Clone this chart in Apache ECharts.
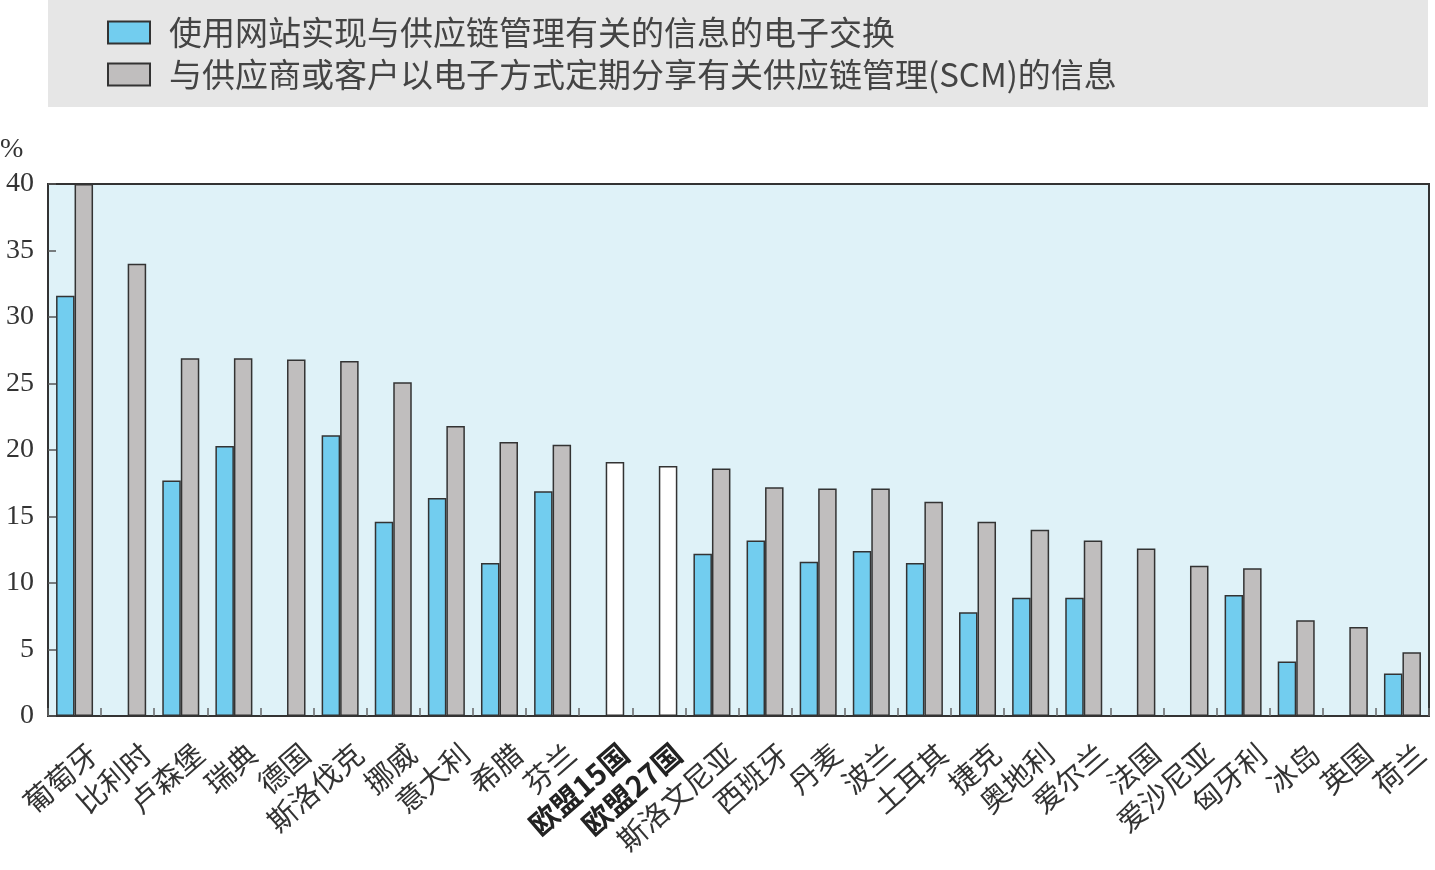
<!DOCTYPE html>
<html>
<head>
<meta charset="utf-8">
<script src="https://cdn.jsdelivr.net/npm/echarts@6/dist/echarts.min.js"></script>
<style>html,body{margin:0;padding:0;background:#fff;}#c{width:1435px;height:870px;}</style>
</head>
<body>
<div id="c"></div>
<script>
const categories = ['葡萄牙','比利时','卢森堡','瑞典','德国','斯洛伐克','挪威','意大利','希腊','芬兰','欧盟15国','欧盟27国','斯洛文尼亚','西班牙','丹麦','波兰','土耳其','捷克','奥地利','爱尔兰','法国','爱沙尼亚','匈牙利','冰岛','英国','荷兰'];
const boldCategories = ['欧盟15国','欧盟27国'];
const seriesNames = ['使用网站实现与供应链管理有关的信息的电子交换','与供应商或客户以电子方式定期分享有关供应链管理(SCM)的信息'];
const websiteValues = [31.6,null,17.7,20.3,null,21.1,14.6,16.4,11.5,16.9,null,null,12.2,13.2,11.6,12.4,11.5,7.8,8.9,8.9,null,null,9.1,4.1,null,3.2];
const shareValues = [40,34.0,26.9,26.9,26.8,26.7,25.1,21.8,20.6,20.4,19.1,18.8,18.6,17.2,17.1,17.1,16.1,14.6,14.0,13.2,12.6,11.3,11.1,7.2,6.7,4.8];
const yTicks = [0,5,10,15,20,25,30,35,40];

const chart = echarts.init(document.getElementById('c'));
const serif = '"Liberation Serif", "Noto Sans CJK SC", serif';
const cjk = '"Noto Sans CJK SC", "Liberation Serif", serif';
const labelBase = { verticalAlign: 'top', padding: [14, 0, 0, 0], fontFamily: cjk, fontSize: 29, color: '#333' };

chart.setOption({
  animation: false,
  backgroundColor: '#ffffff',
  graphic: [
    { type: 'rect', left: 48, top: 0, shape: { width: 1380, height: 107 }, style: { fill: '#e6e6e6' }, z: -10 },
    { type: 'text', left: 0, top: 136, style: { text: '%', font: '28px "Liberation Serif", serif', fill: '#333' } }
  ],
  legend: {
    orient: 'vertical',
    left: 107,
    top: 16,
    padding: 0,
    itemWidth: 42,
    itemHeight: 22,
    itemGap: 9,
    icon: 'rect',
    data: seriesNames,
    textStyle: { fontFamily: cjk, fontSize: 33, color: '#444', lineHeight: 33, padding: [0, 0, 0, 14] }
  },
  grid: {
    left: 48, right: 6, top: 184, bottom: 154,
    show: true, backgroundColor: '#dff2f8', borderColor: '#333', borderWidth: 2
  },
  xAxis: {
    type: 'category',
    data: categories.map(c => boldCategories.includes(c)
      ? { value: c, textStyle: Object.assign({}, labelBase, { fontWeight: 'bold', color: '#222' }) }
      : c),
    axisLine: { lineStyle: { color: '#333', width: 2 } },
    axisTick: { show: true, inside: true, length: 8, lineStyle: { color: '#666', width: 1.5 } },
    axisLabel: Object.assign({ interval: 0, rotate: 41, margin: 12 }, labelBase)
  },
  yAxis: {
    type: 'value', min: 0, max: 40, interval: 5,
    axisLine: { show: true, lineStyle: { color: '#333', width: 2 } },
    axisTick: { show: true, inside: true, length: 8, lineStyle: { color: '#555', width: 1.5 } },
    splitLine: { show: false },
    axisLabel: { margin: 14, fontFamily: serif, fontSize: 28, color: '#333', formatter: v => yTicks.includes(v) ? String(v) : '' }
  },
  series: [
    {
      name: seriesNames[0], type: 'bar', barWidth: 18.5, barGap: '0%',
      data: websiteValues,
      itemStyle: { color: '#72cdef', borderColor: '#333', borderWidth: 1.5 }
    },
    {
      name: seriesNames[1], type: 'bar', barWidth: 18.5, barGap: '0%',
      data: shareValues.map((v, i) => boldCategories.includes(categories[i]) ? { value: v, itemStyle: { color: '#ffffff' } } : v),
      itemStyle: { color: '#c0bebe', borderColor: '#333', borderWidth: 1.5 }
    }
  ]
});
</script>
</body>
</html>
